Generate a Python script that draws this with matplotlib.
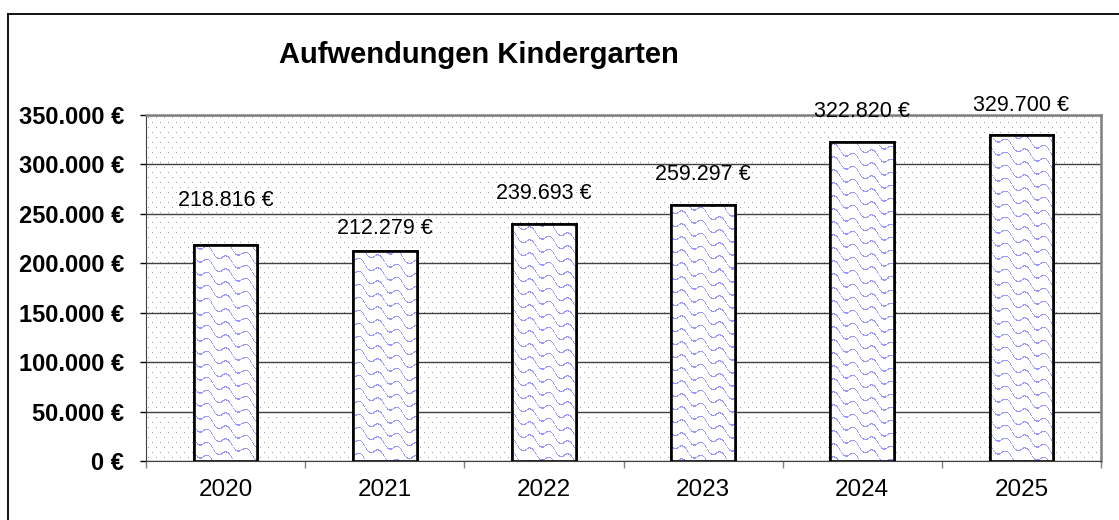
import numpy as np
import matplotlib
matplotlib.use("Agg")
import matplotlib.pyplot as plt
from matplotlib.lines import Line2D

plt.rcParams['font.family'] = ['Liberation Sans', 'DejaVu Sans']

# data
years = ['2020', '2021', '2022', '2023', '2024', '2025']
costs = [218816, 212279, 239693, 259297, 322820, 329700]
label_offsets = [32, 16.5, 22, 21.5, 22, 21.5]  # points above bar top (manual in original)

def euro(v):
    return f"{v:,.0f} €".replace(",", ".")

W, H = 1119, 520
fig = plt.figure(figsize=(W / 100, H / 100), dpi=100)

# axes placed in pixels
ax_l, ax_t, ax_w, ax_h = 146, 115, 955, 346
ax = fig.add_axes([ax_l / W, 1 - (ax_t + ax_h) / H, ax_w / W, ax_h / H])

x = np.arange(len(years))
ax.set_xlim(-0.5, len(years) - 0.5)
ax.set_ylim(0, 350000)

# dotted plot area background
yy, xx = np.mgrid[0:ax_h, 0:ax_w]
bg = np.ones((ax_h, ax_w, 3))
dots = (yy % 5 == 2) & ((xx + 4 * ((yy // 5) % 2)) % 8 == 2)
bg[dots] = 0.62
ax.imshow(bg, extent=(-0.5, len(years) - 0.5, 0, 350000), aspect='auto',
          interpolation='nearest', zorder=0)

# grid
ax.set_yticks(np.arange(0, 350001, 50000))
ax.yaxis.grid(True, color='#404040', linewidth=1.0, zorder=1)
ax.set_axisbelow(True)

# wavy blue texture for bars
tex = np.ones((ax_h, ax_w, 3))
phase = (yy - 0.5 * xx + 3.5 * np.sin(2 * np.pi * xx / 19.0)) % 13.0
tex[phase < 1.4] = [0.6, 0.6, 1.0]

bars = ax.bar(x, costs, width=0.4, color='white', edgecolor='black',
              linewidth=1.9, zorder=3)
for b in bars:
    im = ax.imshow(tex, extent=(-0.5, len(years) - 0.5, 0, 350000), aspect='auto',
                   interpolation='nearest', zorder=3.5)
    im.set_clip_path(b)
    edge = plt.Rectangle(b.get_xy(), b.get_width(), b.get_height(), fill=False,
                         edgecolor='black', linewidth=1.9, zorder=4)
    ax.add_patch(edge)

for xi, v, off in zip(x, costs, label_offsets):
    ax.annotate(euro(v), (xi, v), xytext=(0, off), textcoords='offset points',
                ha='center', va='center', fontsize=15.5, zorder=5)

ax.set_yticklabels([euro(v) for v in ax.get_yticks()], fontsize=17, fontweight='bold')
ax.tick_params(axis='y', length=4, width=1, color='black', pad=12)

ax.set_xticks(x)
ax.set_xticklabels(years, fontsize=17.5)
ax.set_xticks(np.arange(-0.5, len(years), 1), minor=True)
ax.tick_params(axis='x', which='major', length=0, pad=13)
ax.tick_params(axis='x', which='minor', length=5, width=1, color='#808080')

for s in ['top', 'right']:
    ax.spines[s].set_color('#808080')
    ax.spines[s].set_linewidth(1.8)
ax.spines['left'].set_color('#404040')
ax.spines['bottom'].set_color('#404040')

fig.text(479 / W, 1 - 55 / H, 'Aufwendungen Kindergarten', ha='center', va='center',
         fontsize=21, fontweight='bold')

# outer chart frame (cut by image edge on right/bottom)
fig.add_artist(Line2D([8 / W, 1.0], [1 - 14 / H] * 2, color='black', linewidth=1.3,
                      transform=fig.transFigure))
fig.add_artist(Line2D([8 / W] * 2, [0.0, 1 - 14 / H], color='black', linewidth=1.3,
                      transform=fig.transFigure))

fig.savefig('out.png', dpi=100)
